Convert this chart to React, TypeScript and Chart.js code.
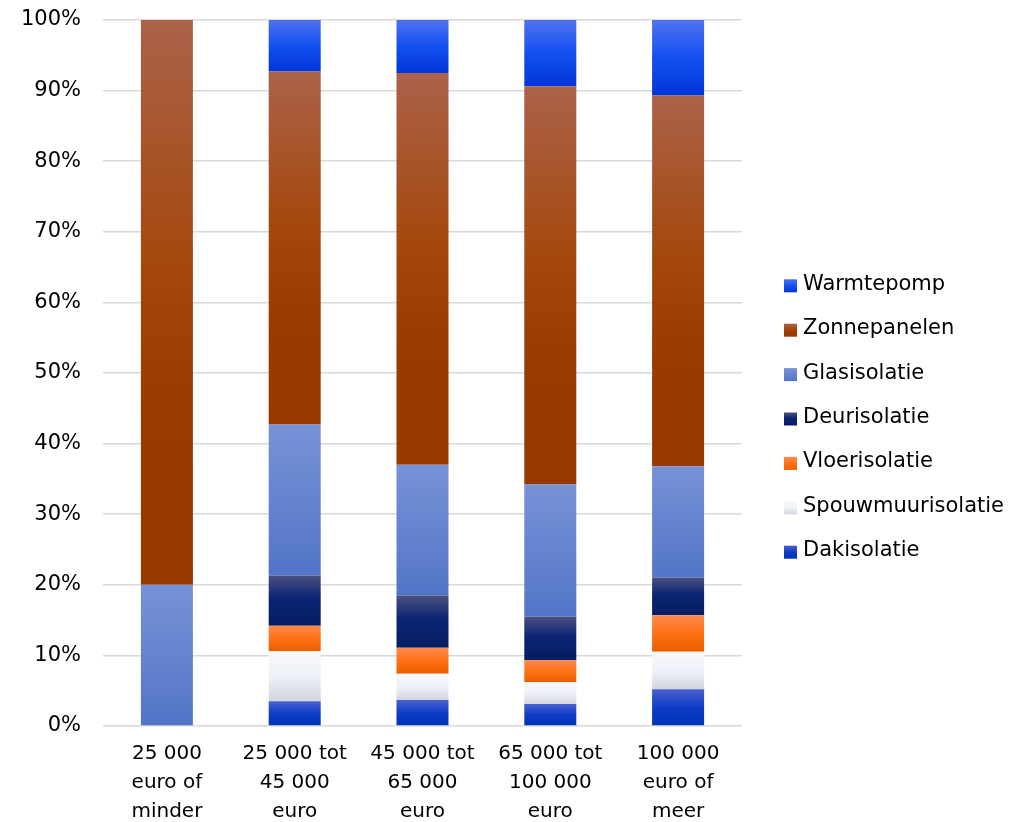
import React, { useEffect, useRef } from "react";
import { Chart, registerables } from "chart.js";

Chart.register(...registerables);

const categories: string[][] = [
  ["25 000", "euro of", "minder"],
  ["25 000 tot", "45 000", "euro"],
  ["45 000 tot", "65 000", "euro"],
  ["65 000 tot", "100 000", "euro"],
  ["100 000", "euro of", "meer"],
];

const dakisolatie = [0, 3.5, 3.7, 3.1, 5.2];
const spouwmuurisolatie = [0, 7.1, 3.7, 3.1, 5.3];
const vloerisolatie = [0, 3.6, 3.7, 3.1, 5.2];
const deurisolatie = [0, 7.1, 7.4, 6.2, 5.3];
const glasisolatie = [20, 21.4, 18.5, 18.7, 15.8];
const zonnepanelen = [80, 50, 55.5, 56.4, 52.5];
const warmtepomp = [0, 7.3, 7.5, 9.4, 10.7];

const yTicks = [0, 10, 20, 30, 40, 50, 60, 70, 80, 90, 100];

const FONT = "'DejaVu Sans', sans-serif";

type Grad = [string, number][];

const seriesDefs: { label: string; data: number[]; grad: Grad }[] = [
  { label: "Dakisolatie", data: dakisolatie, grad: [["#4a62d0", 0], ["#0e3cc6", 0.5], ["#0032ba", 1]] },
  { label: "Spouwmuurisolatie", data: spouwmuurisolatie, grad: [["#f8f9fc", 0], ["#eef1f8", 0.5], ["#d2d5dd", 1]] },
  { label: "Vloerisolatie", data: vloerisolatie, grad: [["#ff8a4c", 0], ["#ff6f10", 0.55], ["#e65e00", 1]] },
  { label: "Deurisolatie", data: deurisolatie, grad: [["#4b5080", 0], ["#0c2473", 0.45], ["#061c62", 1]] },
  { label: "Glasisolatie", data: glasisolatie, grad: [["#7792d6", 0], ["#6584cf", 0.5], ["#5374c7", 1]] },
  { label: "Zonnepanelen", data: zonnepanelen, grad: [["#ab6249", 0], ["#a4470b", 0.45], ["#9a3900", 0.7], ["#983800", 1]] },
  { label: "Warmtepomp", data: warmtepomp, grad: [["#4f72f1", 0], ["#1450f0", 0.5], ["#0035da", 1]] },
];

function makeGrad(ctx: CanvasRenderingContext2D, y0: number, y1: number, grad: Grad) {
  const g = ctx.createLinearGradient(0, y0, 0, y1);
  grad.forEach(([c, s]) => g.addColorStop(s, c));
  return g;
}

const legendPlugin = {
  id: "customLegend",
  afterDraw(chart: any) {
    const ctx: CanvasRenderingContext2D = chart.ctx;
    const n = seriesDefs.length;
    const spacing = 44.4;
    const cy = chart.height / 2 + 2.5;
    const boxX = 776;
    const textX = 795;
    ctx.save();
    ctx.font = `21px ${FONT}`;
    ctx.textBaseline = "middle";
    ctx.textAlign = "left";
    for (let k = 0; k < n; k++) {
      const def = seriesDefs[n - 1 - k];
      const y = cy + (k - (n - 1) / 2) * spacing;
      ctx.fillStyle = makeGrad(ctx, y - 5, y + 8, def.grad);
      ctx.fillRect(boxX, y - 5, 13, 13);
      ctx.fillStyle = "#000000";
      ctx.fillText(def.label, textX, y);
    }
    ctx.restore();
  },
};

export default function App() {
  const ref = useRef<HTMLCanvasElement | null>(null);

  useEffect(() => {
    if (!ref.current) return;
    const datasets = seriesDefs.map((def, di) => ({
      label: def.label,
      data: def.data,
      backgroundColor: (c: any) => {
        const chart = c.chart;
        const y = chart.scales?.y;
        const i = c.dataIndex;
        if (!y || i === undefined || !chart.chartArea) return def.grad[1][0];
        let base = 0;
        for (let k = 0; k < di; k++) base += seriesDefs[k].data[i];
        const top = base + def.data[i];
        const y0 = y.getPixelForValue(top);
        const y1 = y.getPixelForValue(base);
        if (!isFinite(y0) || !isFinite(y1) || y0 === y1) return def.grad[1][0];
        return makeGrad(chart.ctx, y0, y1, def.grad);
      },
      borderWidth: 0,
      barPercentage: 0.407,
      categoryPercentage: 1,
    }));

    const chart = new Chart(ref.current, {
      type: "bar",
      data: { labels: categories, datasets },
      options: {
        animation: false,
        responsive: false,
        maintainAspectRatio: false,
        layout: { padding: { top: 12, right: 283, left: 0, bottom: 0 } },
        plugins: {
          legend: { display: false },
          tooltip: { enabled: false },
        },
        scales: {
          x: {
            stacked: true,
            grid: { display: false, drawTicks: false },
            border: { display: false },
            ticks: {
              color: "#000000",
              font: { family: FONT, size: 20, lineHeight: 1.45 },
              padding: 13,
              maxRotation: 0,
              minRotation: 0,
              autoSkip: false,
            },
            afterFit: (s: any) => {
              s.height = 96;
              s.paddingLeft = 0;
              s.paddingRight = 0;
            },
          },
          y: {
            stacked: true,
            min: 0,
            max: 100,
            afterBuildTicks: (s: any) => {
              s.ticks = yTicks.map((v) => ({ value: v }));
            },
            grid: { color: "#d9d9d9", lineWidth: 1.6, drawTicks: false },
            border: { display: false },
            ticks: {
              color: "#000000",
              font: { family: FONT, size: 21 },
              padding: 22,
              callback: (v: any) => `${v}%`,
            },
            afterFit: (s: any) => {
              s.width = 95;
              s.paddingTop = 0;
              s.paddingBottom = 0;
            },
          },
        },
      },
      plugins: [legendPlugin],
    });
    return () => chart.destroy();
  }, []);

  return (
    <div style={{ width: 1017, height: 814 }}>
      <canvas ref={ref} width={1017} height={814} style={{ display: "block" }} />
    </div>
  );
}
